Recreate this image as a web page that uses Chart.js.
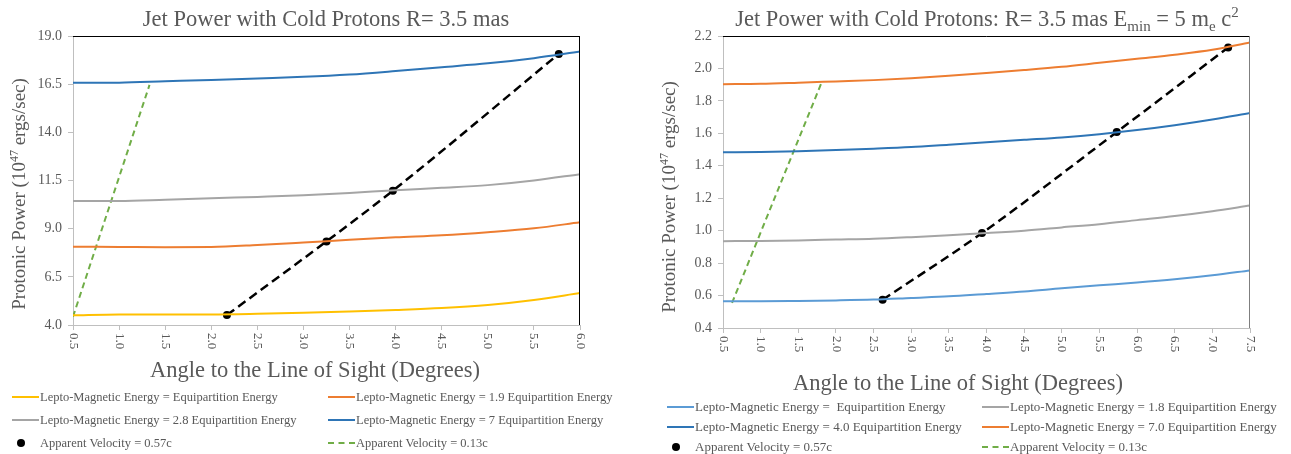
<!DOCTYPE html>
<html>
<head>
<meta charset="utf-8">
<script src="https://cdn.jsdelivr.net/npm/chart.js@4.4.1/dist/chart.umd.min.js"></script>
<style>
  body { margin: 0; background: #fff; font-family: "Liberation Serif", serif; }
  #wrap { position: relative; width: 1291px; height: 454px; overflow: hidden; }
  canvas { position: absolute; top: 0; }
  .item { position: absolute; white-space: pre; font-size: 13px; color: #595959; display: flex; align-items: center; height: 16px; }
  .sw { position: relative; width: 27px; height: 16px; margin-right: 1px; }
  .sw .ln { position: absolute; left: 0; right: 0; top: 7px; height: 2px; }
  .sw .dash { position: absolute; left: 0; right: 0; top: 7px; height: 0; border-top: 2px dashed #70AD47; }
  .sw .dot { position: absolute; left: 5px; top: 4px; width: 8px; height: 8px; border-radius: 50%; background: #000; }
</style>
</head>
<body>
<div id="wrap">
  <canvas id="left" width="650" height="454" style="left:0"></canvas>
  <canvas id="right" width="641" height="454" style="left:650px"></canvas>
</div>
<script>
// ================= DATA: LEFT CHART =================
const leftAngles = [0.5, 1.0, 1.5, 2.0, 2.5, 3.0, 3.5, 4.0, 4.5, 5.0, 5.5, 6.0];
const leftEquip  = [4.50, 4.55, 4.55, 4.55, 4.58, 4.63, 4.70, 4.78, 4.88, 5.04, 5.30, 5.66];
const left19     = [8.06, 8.05, 8.04, 8.05, 8.15, 8.28, 8.42, 8.55, 8.66, 8.82, 9.02, 9.33];
const left28     = [10.43, 10.43, 10.50, 10.58, 10.65, 10.73, 10.85, 11.00, 11.12, 11.26, 11.50, 11.83];
const left7      = [16.58, 16.58, 16.65, 16.72, 16.80, 16.88, 17.00, 17.18, 17.38, 17.58, 17.85, 18.19];
const leftDotAngles = [2.17, 3.25, 3.97, 5.77];
const leftDotPower  = [4.52, 8.34, 10.97, 18.07];
const leftGreenAngles = [0.5, 1.33];
const leftGreenPower  = [4.43, 16.46];
const leftYTicks = [4.0, 19.0, 2.5];   // min, max, step

// ================= DATA: RIGHT CHART =================
const rightAngles = [0.5, 1.0, 1.5, 2.0, 2.5, 3.0, 3.5, 4.0, 4.5, 5.0, 5.5, 6.0, 6.5, 7.0, 7.5];
const rightEquip  = [0.565, 0.565, 0.567, 0.570, 0.575, 0.585, 0.595, 0.610, 0.625, 0.645, 0.663, 0.680, 0.700, 0.725, 0.755];
const right18     = [0.935, 0.937, 0.940, 0.945, 0.950, 0.960, 0.972, 0.985, 1.000, 1.020, 1.040, 1.065, 1.090, 1.120, 1.155];
const right40     = [1.483, 1.485, 1.490, 1.497, 1.505, 1.515, 1.530, 1.545, 1.560, 1.575, 1.595, 1.620, 1.650, 1.685, 1.725];
const right70     = [1.903, 1.905, 1.912, 1.920, 1.928, 1.940, 1.955, 1.972, 1.990, 2.010, 2.035, 2.060, 2.085, 2.115, 2.160];
const rightDotAngles = [2.62, 3.94, 5.73, 7.21];
const rightDotPower  = [0.574, 0.985, 1.608, 2.129];
const rightGreenAngles = [0.62, 1.82];
const rightGreenPower  = [0.555, 1.925];
const rightYTicks = [0.4, 2.2, 0.2];

const GREY_TEXT = "#595959";
const FONT = '"Liberation Serif", "Times New Roman", serif';

function pts(xs, ys) {
  return xs.map((x, i) => ({ x, y: ys[i] }));
}

function curve(label, xs, ys, color) {
  return { label, data: pts(xs, ys), borderColor: color, borderWidth: 2, pointRadius: 0,
           cubicInterpolationMode: "monotone", kind: "line" };
}
function dots(label, xs, ys) {
  return { label, data: pts(xs, ys), borderColor: "#000", borderWidth: 2.5, borderDash: [9, 5],
           pointRadius: 4, pointBackgroundColor: "#000", pointBorderWidth: 0,
           cubicInterpolationMode: "monotone", kind: "dot" };
}
function greenDash(label, xs, ys) {
  return { label, data: pts(xs, ys), borderColor: "#70AD47", borderWidth: 2, borderDash: [6, 4],
           pointRadius: 0, kind: "dash" };
}

// rich text (sub/superscripts) drawn centred on cx, baseline cy
function drawRich(ctx, segs, cx, cy, size) {
  const parts = segs.map(s => {
    const fs = (s.sub || s.sup) ? Math.round(size * 0.65) : size;
    ctx.font = fs + "px " + FONT;
    return { s, fs, w: ctx.measureText(s.t).width };
  });
  const total = parts.reduce((a, p) => a + p.w, 0);
  let x = cx - total / 2;
  ctx.textAlign = "left";
  ctx.textBaseline = "alphabetic";
  parts.forEach(p => {
    ctx.font = p.fs + "px " + FONT;
    const dy = p.s.sup ? -size * 0.38 : p.s.sub ? size * 0.22 : 0;
    ctx.fillText(p.s.t, x, cy + dy);
    x += p.w;
  });
}

const decor = {
  id: "decor",
  afterDraw(chart, args, o) {
    const ctx = chart.ctx, a = chart.chartArea;
    ctx.save();
    // top & right frame
    ctx.lineWidth = 1;
    ctx.strokeStyle = "#000";
    ctx.beginPath();
    ctx.moveTo(a.left, a.top + 0.5);
    ctx.lineTo(a.right - 0.5, a.top + 0.5);
    ctx.stroke();
    ctx.strokeStyle = o.rightFrame;
    ctx.beginPath();
    ctx.moveTo(a.right - 0.5, a.top);
    ctx.lineTo(a.right - 0.5, a.bottom);
    ctx.stroke();

    // rotated x tick labels (read top to bottom)
    const xs = chart.scales.x;
    ctx.fillStyle = GREY_TEXT;
    ctx.font = "13px " + FONT;
    ctx.textAlign = "left";
    ctx.textBaseline = "middle";
    xs.ticks.forEach(t => {
      const px = xs.getPixelForValue(t.value);
      ctx.save();
      ctx.translate(px, a.bottom + 8);
      ctx.rotate(Math.PI / 2);
      ctx.fillText(t.value.toFixed(1), 0, 0);
      ctx.restore();
    });

    drawRich(ctx, o.title, o.titleX, o.titleY, 22.5);
    drawRich(ctx, [{ t: "Angle to the Line of Sight (Degrees)" }], o.xTitleX, o.xTitleY, 22.5);

    ctx.translate(o.yTitleX, o.yTitleY);
    ctx.rotate(-Math.PI / 2);
    drawRich(ctx, [{ t: "Protonic Power (10" }, { t: "47", sup: true }, { t: " ergs/sec)" }], 0, 0, 19);
    ctx.restore();
  }
};

function makeChart(id, cfg) {
  const canvas = document.getElementById(id);
  const axisCol = "#bfbfbf";
  return new Chart(canvas, {
    type: "line",
    data: { datasets: cfg.datasets },
    options: {
      responsive: false,
      animation: false,
      layout: { padding: { left: 0, top: cfg.top, right: canvas.width - cfg.plotRight, bottom: 0 } },
      plugins: { legend: { display: false }, tooltip: { enabled: false }, decor: cfg.decor },
      scales: {
        x: {
          type: "linear", min: cfg.xMin, max: cfg.xMax,
          ticks: { stepSize: 0.5, display: false },
          grid: { drawOnChartArea: false, tickLength: 5, color: axisCol },
          border: { color: axisCol },
          afterFit: s => { s.height = canvas.height - cfg.plotBottom; }
        },
        y: {
          type: "linear", min: cfg.yTicks[0], max: cfg.yTicks[1],
          ticks: { stepSize: cfg.yTicks[2], color: GREY_TEXT, padding: 6,
                   font: { family: FONT, size: 14 }, callback: v => v.toFixed(1) },
          grid: { drawOnChartArea: false, tickLength: 5, color: axisCol },
          border: { color: axisCol },
          afterFit: s => { s.width = cfg.plotLeft; }
        }
      }
    },
    plugins: [decor]
  });
}

const leftSets = [
  curve("Lepto-Magnetic Energy = Equipartition Energy", leftAngles, leftEquip, "#FFC000"),
  curve("Lepto-Magnetic Energy = 1.9 Equipartition Energy", leftAngles, left19, "#ED7D31"),
  curve("Lepto-Magnetic Energy = 2.8 Equipartition Energy", leftAngles, left28, "#A5A5A5"),
  curve("Lepto-Magnetic Energy = 7 Equipartition Energy", leftAngles, left7, "#2E75B6"),
  dots("Apparent Velocity = 0.57c", leftDotAngles, leftDotPower),
  greenDash("Apparent Velocity = 0.13c", leftGreenAngles, leftGreenPower)
];

const rightSets = [
  curve("Lepto-Magnetic Energy =  Equipartition Energy", rightAngles, rightEquip, "#5B9BD5"),
  curve("Lepto-Magnetic Energy = 1.8 Equipartition Energy", rightAngles, right18, "#A5A5A5"),
  curve("Lepto-Magnetic Energy = 4.0 Equipartition Energy", rightAngles, right40, "#2E75B6"),
  curve("Lepto-Magnetic Energy = 7.0 Equipartition Energy", rightAngles, right70, "#ED7D31"),
  dots("Apparent Velocity = 0.57c", rightDotAngles, rightDotPower),
  greenDash("Apparent Velocity = 0.13c", rightGreenAngles, rightGreenPower)
];

makeChart("left", {
  datasets: leftSets, xMin: 0.5, xMax: 6.0, yTicks: leftYTicks,
  top: 36, plotLeft: 73, plotRight: 580, plotBottom: 325,
  decor: {
    rightFrame: "#000",
    title: [{ t: "Jet Power with Cold Protons R= 3.5 mas" }], titleX: 326, titleY: 26,
    xTitleX: 315, xTitleY: 377, yTitleX: 25, yTitleY: 194
  }
});

makeChart("right", {
  datasets: rightSets, xMin: 0.5, xMax: 7.5, yTicks: rightYTicks,
  top: 36, plotLeft: 73, plotRight: 600, plotBottom: 328,
  decor: {
    rightFrame: "#7f7f7f",
    title: [{ t: "Jet Power with Cold Protons: R= 3.5 mas E" }, { t: "min", sub: true },
            { t: " = 5 m" }, { t: "e", sub: true }, { t: " c" }, { t: "2", sup: true }],
    titleX: 337, titleY: 26,
    xTitleX: 308, xTitleY: 390, yTitleX: 25, yTitleY: 197
  }
});

// ================= HTML LEGENDS =================
function buildLegend(sets, xCols, yRows, size) {
  const wrap = document.getElementById("wrap");
  sets.forEach((ds, i) => {
    const el = document.createElement("div");
    el.className = "item";
    el.style.fontSize = size + "px";
    el.style.left = xCols[i % 2] + "px";
    el.style.top = (yRows[Math.floor(i / 2)] - 8) + "px";
    let sw = "";
    if (ds.kind === "line") sw = `<span class="ln" style="background:${ds.borderColor}"></span>`;
    if (ds.kind === "dash") sw = `<span class="dash"></span>`;
    if (ds.kind === "dot") sw = `<span class="dot"></span>`;
    el.innerHTML = `<span class="sw">${sw}</span><span>${ds.label}</span>`;
    wrap.appendChild(el);
  });
}

buildLegend(leftSets, [12, 328], [397, 420, 443], 12.5);
buildLegend(rightSets, [667, 982], [407, 427, 447], 13);
</script>
</body>
</html>
